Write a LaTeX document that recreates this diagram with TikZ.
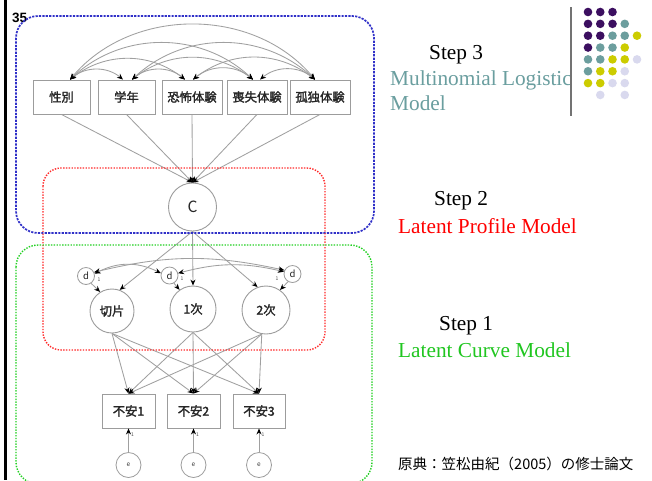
\documentclass[tikz,border=0pt]{standalone}
\usepackage{fontspec}
\setmainfont{Liberation Serif}
\newfontfamily\cjk{Noto Sans CJK JP}[FakeBold=1.8]
\newfontfamily\cjkr{Noto Sans CJK JP}
\newfontfamily\numfont{Liberation Sans}
\usetikzlibrary{arrows.meta,calc}

\definecolor{boxgray}{HTML}{9C9C9C}
\definecolor{linegray}{HTML}{A0A0A0}
\definecolor{stepblue}{HTML}{3030C8}
\definecolor{stepred}{HTML}{FF2A2A}
\definecolor{stepgreen}{HTML}{22D022}
\definecolor{logitteal}{HTML}{6A9E9F}
\definecolor{dpurple}{HTML}{3C0F60}
\definecolor{dteal}{HTML}{6C9E9E}
\definecolor{dyellow}{HTML}{CCCC00}
\definecolor{dlav}{HTML}{D9D9EE}

\tikzset{
  obs/.style={draw=boxgray, line width=0.9pt, fill=white, minimum height=34pt,
    inner sep=0pt, text=black!85, font=\cjk\fontsize{12.3}{13}\selectfont},
  lat/.style={draw=boxgray, line width=0.9pt, fill=white, circle, inner sep=0pt,
    text=black!85, font=\cjk\fontsize{12.3}{13}\selectfont},
  dist/.style={draw=boxgray, line width=0.8pt, fill=white, circle, inner sep=0pt,
    minimum size=17pt, text=black!85, font=\cjkr\fontsize{9.5}{10}\selectfont},
  errc/.style={draw=boxgray, line width=0.8pt, fill=white, circle, inner sep=0pt,
    minimum size=25pt, text=black!80, font=\cjkr\fontsize{6.5}{7}\selectfont},
  tip/.style={-{Stealth[length=6pt,width=5pt,color=black]}},
  path/.style={draw=linegray, line width=0.85pt, tip},
  cov/.style={draw=linegray, line width=0.85pt,
    {Stealth[length=6pt,width=5pt,color=black]}-{Stealth[length=6pt,width=5pt,color=black]}},
  fixlab/.style={inner sep=0pt, text=black!70, font=\cjkr\fontsize{5}{5}\selectfont},
  steptxt/.style={anchor=base west, inner sep=0pt, font=\fontsize{21.3}{24}\selectfont},
  dotted box/.style={line width=1.4pt, dash pattern=on 1.4pt off 1.4pt},
}

\begin{document}
\begin{tikzpicture}[x=1pt,y=1pt]
\useasboundingbox (0,0) rectangle (652,-480);
\fill[white] (0,0) rectangle (652,-480);

% left margin bar and slide number
\draw[black, line width=2.5pt] (5.3,0) -- (5.3,-480);
\node[anchor=west, inner sep=0pt, font=\numfont\bfseries\fontsize{13.5}{14}\selectfont] (num) at (12,-17.5) {35};

% covariates
\node[obs, minimum width=57pt] (b1) at (61.5,-97) {性別};
\node[obs, minimum width=57pt] (b2) at (126.5,-97) {学年};
\node[obs, minimum width=60pt] (b3) at (192,-97) {恐怖体験};
\node[obs, minimum width=60pt] (b4) at (257,-97) {喪失体験};
\node[obs, minimum width=60pt] (b5) at (320,-97) {孤独体験};

% covariances among covariates
\draw[cov] ([xshift=8.5pt]b1.north) to[bend left=40] ([xshift=-3.5pt]b2.north);
\draw[cov] ([xshift=8.5pt]b1.north) to[bend left=38] ([xshift=-7pt]b3.north);
\draw[cov] ([xshift=8.5pt]b1.north) to[bend left=43] ([xshift=-4pt]b4.north);
\draw[cov] ([xshift=8.5pt]b1.north) to[bend left=50] ([xshift=-5pt]b5.north);
\draw[cov] ([xshift=5.5pt]b2.north) to[bend left=40] ([xshift=-7pt]b3.north);
\draw[cov] ([xshift=5.5pt]b2.north) to[bend left=38] ([xshift=-4pt]b4.north);
\draw[cov] ([xshift=5.5pt]b2.north) to[bend left=43] ([xshift=-5pt]b5.north);
\draw[cov] ([xshift=1pt]b3.north) to[bend left=40] ([xshift=-4pt]b4.north);
\draw[cov] ([xshift=1pt]b3.north) to[bend left=38] ([xshift=-5pt]b5.north);
\draw[cov] ([xshift=3pt]b4.north) to[bend left=40] ([xshift=-5pt]b5.north);

% latent class
\node[lat, minimum size=48pt, font=\cjkr\fontsize{15.5}{16}\selectfont] (C) at (192.5,-207) {C};
\foreach \b in {b1,b2,b3,b4,b5} \draw[path] (\b.south) -- (C.north);

% growth factors
\node[lat, minimum size=44pt] (L1) at (112,-311) {切片};
\node[lat, minimum size=46pt] (L2) at (193,-309) {1次};
\node[lat, minimum size=48pt] (L3) at (266,-310) {2次};
\draw[path] (C.south) -- (L1.70);
\draw[path] (C.south) -- (L2.north);
\draw[path] (C.south) -- (L3.110);

% disturbances
\node[dist] (d1) at (86,-276) {d};
\node[dist] (d2) at (169.5,-275.5) {d};
\node[dist] (d3) at (292.5,-274) {d};
\draw[path] (d1.-55) -- (L1.122);
\draw[path] (d2.-60) -- (L2.125);
\draw[path] (d3.-120) -- (L3.55);
\node[fixlab] (f1) at (99,-280) {1};
\node[fixlab] (f2) at (182,-279) {1};
\node[fixlab] (f3) at (277,-279) {1};
\draw[cov] (d1.15) to[bend left=27] (d2.165);
\draw[cov] (d1.25) to[bend left=13] (d3.155);
\draw[cov] (d2.15) to[bend left=14] (d3.165);

% repeated measures
\node[obs, minimum width=53pt] (I1) at (128.5,-411) {不安1};
\node[obs, minimum width=53pt] (I2) at (193.5,-411) {不安2};
\node[obs, minimum width=52pt] (I3) at (259,-411) {不安3};
\foreach \l/\a in {L1/south,L2/south,L3/-100}
  \foreach \i in {I1,I2,I3}
    \draw[path] (\l.\a) -- (\i.north);

% measurement errors
\node[errc] (e1) at (128.5,-465) {e};
\node[errc] (e2) at (193.5,-465) {e};
\node[errc] (e3) at (259,-465) {e};
\foreach \e/\i in {e1/I1,e2/I2,e3/I3}
  \draw[path] (\e.north) -- (\e.north |- \i.south);
\node[fixlab] (g1) at (132.5,-435) {1};
\node[fixlab] (g2) at (197.5,-435) {1};
\node[fixlab] (g3) at (263,-435) {1};

% model steps
\draw[stepblue, line width=1.7pt, dash pattern=on 2.2pt off 1.2pt, rounded corners=22pt] (16,-16) rectangle (374,-233);
\draw[stepred, dotted box, rounded corners=18pt] (43,-168) rectangle (325,-350);
\draw[stepgreen, dotted box, rounded corners=22pt] (16,-245) rectangle (372,-484);

% step captions
\node[steptxt] (s3) at (429,-59) {Step 3};
\node[steptxt, text=logitteal] (s3a) at (390,-85) {Multinomial Logistic};
\node[steptxt, text=logitteal] (s3b) at (390,-110) {Model};
\node[steptxt] (s2) at (434,-205) {Step 2};
\node[steptxt, text=red] (s2a) at (398,-233) {Latent Profile Model};
\node[steptxt] (s1) at (439,-330) {Step 1};
\node[steptxt, text=stepgreen!95!black] (s1a) at (398,-357) {Latent Curve Model};
\node[anchor=base west, inner sep=0pt, font=\cjkr\fontsize{14.5}{16}\selectfont] (src) at (398,-469) {原典：笠松由紀（2005）の修士論文};

% decorative dot grid
\draw[black!55, line width=1.2pt] (571,-7) -- (571,-116);
\foreach \c/\r/\col in {
  1/1/dpurple,2/1/dpurple,3/1/dpurple,
  1/2/dpurple,2/2/dpurple,3/2/dpurple,4/2/dteal,
  1/3/dpurple,2/3/dpurple,3/3/dteal,4/3/dteal,5/3/dyellow,
  1/4/dpurple,2/4/dteal,3/4/dteal,4/4/dyellow,
  1/5/dteal,2/5/dteal,3/5/dyellow,4/5/dyellow,5/5/dlav,
  1/6/dteal,2/6/dyellow,3/6/dyellow,4/6/dlav,
  1/7/dyellow,2/7/dyellow,3/7/dlav,4/7/dlav,
  2/8/dlav,4/8/dlav}
  \fill[\col] ({575.75+12.25*\c},{-0.15-11.85*\r}) circle (4.3);
\end{tikzpicture}
\end{document}
